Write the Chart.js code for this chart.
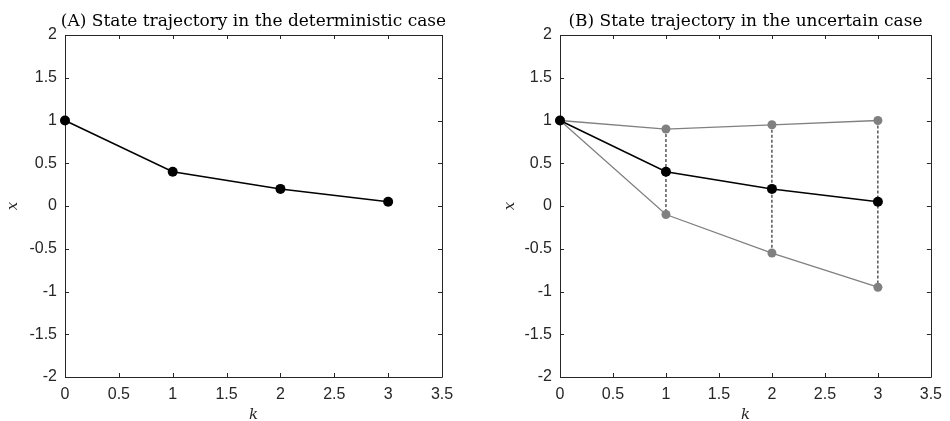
<!DOCTYPE html>
<html>
<head>
<meta charset="utf-8">
<script src="https://cdn.jsdelivr.net/npm/chart.js@4.4.1/dist/chart.umd.min.js"></script>
<style>
  body { margin: 0; background: #fff; width: 950px; height: 421px; overflow: hidden; position: relative; }
  .cell { position: absolute; top: 0; width: 475px; height: 421px; }
</style>
</head>
<body>
<div class="cell" style="left:0"><canvas id="chartA"></canvas></div>
<div class="cell" style="left:475px"><canvas id="chartB"></canvas></div>
<script>
// step index and state values
const K = [0, 1, 2, 3]
const X_DET = [1, 0.4, 0.2, 0.05]
const X_NOM = [1, 0.4, 0.2, 0.05]
const X_UP = [1, 0.9, 0.95, 1.0]
const X_LOW = [1, -0.1, -0.55, -0.95]
const TITLE_A = '(A) State trajectory in the deterministic case'
const TITLE_B = '(B) State trajectory in the uncertain case'

const AXIS = '#262626'
const GREY = '#808080'
const pts = ys => K.map((k, i) => ({ x: k, y: ys[i] }))
const fmt = v => String(Math.round(v * 10) / 10)

// MATLAB-ish box: top/right lines, ticks pointing inward, serif title + italic labels
const matlabBox = {
  id: 'matlabBox',
  beforeDatasetsDraw(chart, args, opts) {
    const { ctx, chartArea: a, scales: { x, y } } = chart
    ctx.save()
    ctx.strokeStyle = AXIS
    ctx.lineWidth = 1
    ctx.beginPath()
    ctx.rect(Math.round(a.left) + 0.5, Math.round(a.top) + 0.5, Math.round(a.right - a.left), Math.round(a.bottom - a.top))
    const t = 4
    x.ticks.forEach(tk => {
      const px = Math.round(x.getPixelForValue(tk.value)) + 0.5
      ctx.moveTo(px, a.bottom); ctx.lineTo(px, a.bottom - t)
      ctx.moveTo(px, a.top); ctx.lineTo(px, a.top + t)
    })
    y.ticks.forEach(tk => {
      const py = Math.round(y.getPixelForValue(tk.value)) + 0.5
      ctx.moveTo(a.left, py); ctx.lineTo(a.left + t, py)
      ctx.moveTo(a.right, py); ctx.lineTo(a.right - t, py)
    })
    ctx.stroke()
    ctx.restore()
  },
  afterDraw(chart, args, opts) {
    const { ctx, chartArea: a } = chart
    const cx = (a.left + a.right) / 2
    ctx.save()
    ctx.fillStyle = '#000'
    ctx.textAlign = 'center'
    ctx.textBaseline = 'alphabetic'
    ctx.font = '17px "DejaVu Serif", serif'
    ctx.fillText(opts.title, cx, 26)
    ctx.fillStyle = AXIS
    ctx.font = 'italic 15px "DejaVu Serif", serif'
    ctx.fillText('k', cx, 419)
    ctx.translate(opts.yLabelX, (a.top + a.bottom) / 2)
    ctx.rotate(-Math.PI / 2)
    ctx.textBaseline = 'middle'
    ctx.fillText('x', 0, 0)
    ctx.restore()
  }
}

function makeOptions(title, leftW, rightPad, yLabelX) {
  return {
    responsive: false,
    animation: false,
    layout: { padding: { top: 35, right: rightPad, left: 0, bottom: 0 } },
    plugins: {
      legend: { display: false },
      tooltip: { enabled: false },
      matlabBox: { title, yLabelX },
    },
    scales: {
      x: {
        type: 'linear', min: 0, max: 3.5,
        ticks: { stepSize: 0.5, color: AXIS, padding: 8, callback: fmt,
          font: { family: 'Liberation Sans', size: 16 }, maxRotation: 0, autoSkip: false },
        grid: { drawOnChartArea: false, drawTicks: false },
        border: { display: false },
        afterFit: s => { s.height = 44 },
      },
      y: {
        type: 'linear', min: -2, max: 2,
        ticks: { stepSize: 0.5, color: AXIS, padding: 8, callback: fmt,
          font: { family: 'Liberation Sans', size: 16 }, autoSkip: false },
        grid: { drawOnChartArea: false, drawTicks: false },
        border: { display: false },
        afterFit: s => { s.width = leftW },
      },
    },
  }
}

const canvasA = document.getElementById('chartA')
canvasA.width = 475; canvasA.height = 421
new Chart(canvasA, {
  type: 'scatter',
  plugins: [matlabBox],
  data: {
    datasets: [{
      data: pts(X_DET), showLine: true, borderColor: '#000', borderWidth: 1.5,
      pointRadius: 5, pointBackgroundColor: '#000', pointBorderWidth: 0, clip: false,
    }],
  },
  options: makeOptions(TITLE_A, 65, 33, 13),
})

// dashed uncertainty bars at k = 1..3
const bars = K.slice(1).map(k => ({
  data: [{ x: k, y: X_UP[k] }, { x: k, y: X_LOW[k] }],
  showLine: true, borderColor: '#000', borderWidth: 1, borderDash: [3, 2],
  pointRadius: 0, order: 3,
}))

const canvasB = document.getElementById('chartB')
canvasB.width = 475; canvasB.height = 421
new Chart(canvasB, {
  type: 'scatter',
  plugins: [matlabBox],
  data: {
    datasets: [
      ...bars,
      { data: pts(X_UP), showLine: true, borderColor: GREY, borderWidth: 1.3, pointRadius: 4.5,
        pointBackgroundColor: GREY, pointBorderWidth: 0, order: 2, clip: false },
      { data: pts(X_LOW), showLine: true, borderColor: GREY, borderWidth: 1.3, pointRadius: 4.5,
        pointBackgroundColor: GREY, pointBorderWidth: 0, order: 2, clip: false },
      { data: pts(X_NOM), showLine: true, borderColor: '#000', borderWidth: 1.5, pointRadius: 5,
        pointBackgroundColor: '#000', pointBorderWidth: 0, order: 1, clip: false },
    ],
  },
  options: makeOptions(TITLE_B, 85, 14, 35),
})
</script>
</body>
</html>
